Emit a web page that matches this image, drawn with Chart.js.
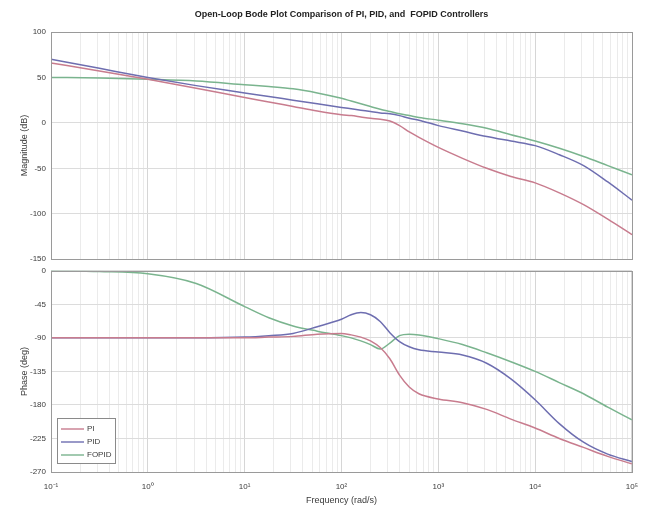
<!DOCTYPE html>
<html><head><meta charset="utf-8">
<script src="https://cdn.jsdelivr.net/npm/chart.js@4/dist/chart.umd.min.js"></script>
<style>
html,body{margin:0;padding:0;background:#fff;}
#wrap{position:relative;width:645px;height:514px;overflow:hidden;}
canvas{position:absolute;left:0;}
#c1{top:0;} #c2{top:261px;}
</style></head><body>
<div id="wrap"><canvas id="c1" width="645" height="269"></canvas><canvas id="c2" width="648" height="253"></canvas></div>
<script>
// ---- data ----
const frequencies = [0.1, 0.3162, 1, 3.162, 10, 17.78, 31.62, 56.23, 100, 125.9, 158.5, 199.5, 251.2, 316.2, 398.1, 501.2, 631.0, 1000, 1778, 3162, 5623, 10000, 17783, 31623, 56234, 100000];
const seriesNames = ['PI', 'PID', 'FOPID'];
const magPI    = [66, 57, 48, 38, 28, 23, 18, 13, 9, 8, 6.5, 5, 4, 2, -3, -10, -16, -27, -39, -50, -59, -66, -77, -90, -106, -123];
const magPID   = [70, 60, 50, 41, 33, 29, 25, 21, 17, 15.5, 14, 12.5, 11, 10, 8, 5, 3, -3, -9, -15, -20, -25, -35, -47, -65, -85];
const magFOPID = [50, 49.5, 48, 46, 42, 40, 37.5, 33, 27, 24, 21, 18, 15, 12.5, 10, 8, 6, 3, -1, -6, -13, -20, -28, -37, -47, -57];
const phPI     = [-90, -90, -90, -90, -90, -89, -88, -85, -84, -86, -89, -94, -103, -118, -140, -156, -165, -172, -177, -186, -199, -211, -225, -237, -249, -259];
const phPID    = [-90, -90, -90, -90, -89, -87, -84, -75, -65, -59, -56, -59, -68, -83, -95, -102, -106, -109, -113, -124, -145, -173, -205, -230, -246, -256];
const phFOPID  = [0, -1, -4, -17, -48, -63, -74, -81, -87, -90, -94, -99, -105, -97, -87, -85, -86, -91, -99, -110, -122, -135, -150, -165, -183, -200];
const xTickValues = [0.1, 1, 10, 100, 1000, 10000, 100000];
const xTickLabels = ['10\u207B\u00B9', '10\u2070', '10\u00B9', '10\u00B2', '10\u00B3', '10\u2074', '10\u2075'];
const magTicks = [100, 50, 0, -50, -100, -150];
const phaseTicks = [0, -45, -90, -135, -180, -225, -270];
const titleText = 'Open-Loop Bode Plot Comparison of PI, PID, and  FOPID Controllers';

// ---- styles ----
const colors = ['rgb(200,124,142)', 'rgb(110,110,176)', 'rgb(122,180,142)'];
const FONT = "'Liberation Sans', Arial, sans-serif";
const TXT = '#3a3a3a';

function pts(arr){ return frequencies.map((f,i)=>({x:f, y:arr[i]})); }
function ds(arrs){ return arrs.map((a,i)=>({label:seriesNames[i], data:pts(a), borderColor:colors[i], borderWidth:1.5, pointRadius:0, fill:false, cubicInterpolationMode:'monotone'})); }

function logTicks(scale){
  const t=[];
  xTickValues.forEach((v,i)=>{
    t.push({value:v, major:true});
    if(i<xTickValues.length-1) for(let k=2;k<10;k++) t.push({value:k*v, major:false});
  });
  scale.ticks=t;
}
function xScale(showLabels){
  return {
    type:'logarithmic', min:0.1, max:100000,
    afterBuildTicks: logTicks,
    afterFit: s => { s.height = showLabels ? 42 : 0; },
    grid:{ color: c => (c.tick && c.tick.major) ? '#d6d6d6' : '#ebebeb', drawTicks:false },
    border:{ display:false },
    ticks:{ display:showLabels, autoSkip:false, maxRotation:0, padding:10, color:TXT, font:{family:FONT, size:8},
      callback:(v)=>{ const i=xTickValues.indexOf(v); return i>=0 ? xTickLabels[i] : ''; } },
    title:{ display:showLabels, text:'Frequency (rad/s)', color:TXT, font:{family:FONT, size:9}, padding:{top:0,bottom:8} }
  };
}
function yScale(min,max,ticksArr,label){
  return {
    min, max,
    afterBuildTicks: s => { s.ticks = ticksArr.map(v=>({value:v})); },
    afterFit: s => { s.width = 51; },
    grid:{ color:'#dcdcdc', drawTicks:false },
    border:{ display:false },
    ticks:{ padding:5, color:TXT, font:{family:FONT, size:8} },
    title:{ display:true, text:label, color:TXT, font:{family:FONT, size:9}, padding:{top:19,bottom:0} }
  };
}
const boxPlugin = { id:'box', afterDraw(chart){
  const {ctx, chartArea:a} = chart;
  ctx.save(); ctx.strokeStyle='#9a9a9a'; ctx.lineWidth=1;
  ctx.strokeRect(Math.round(a.left)+0.5, Math.round(a.top)+0.5, Math.round(a.right-a.left), Math.round(a.bottom-a.top));
  ctx.restore();
}};
const titlePlugin = { id:'ttl', afterDraw(chart){
  const {ctx, chartArea:a} = chart;
  ctx.save(); ctx.fillStyle='#222'; ctx.font="bold 9px "+FONT; ctx.textAlign='center'; ctx.textBaseline='middle';
  ctx.fillText(titleText, (a.left+a.right)/2, 15); ctx.restore();
}};
const legendPlugin = { id:'leg', afterDraw(chart){
  const {ctx} = chart;
  const x0=57, y0=418-261, w=58, h=45;
  ctx.save();
  ctx.fillStyle='#fff'; ctx.fillRect(x0,y0,w,h);
  ctx.strokeStyle='#8a8a8a'; ctx.lineWidth=1; ctx.strokeRect(x0+0.5,y0+0.5,w,h);
  ctx.font="8px "+FONT; ctx.textBaseline='middle'; ctx.fillStyle=TXT;
  chart.data.datasets.forEach((d,i)=>{
    const y=y0+11+i*13;
    ctx.strokeStyle=d.borderColor; ctx.lineWidth=1.4;
    ctx.beginPath(); ctx.moveTo(x0+4,y); ctx.lineTo(x0+27,y); ctx.stroke();
    ctx.fillText(d.label, x0+30, y);
  });
  ctx.restore();
}};
const common = { responsive:false, animation:false, devicePixelRatio:1,
  plugins:{ legend:{display:false}, tooltip:{enabled:false} } };

new Chart(document.getElementById('c1'), {
  type:'line',
  data:{ datasets: ds([magPI, magPID, magFOPID]) },
  options:Object.assign({}, common, {
    layout:{ padding:{ top:32, right:13, bottom:3, left:0 } },
    scales:{ x:xScale(false), y:yScale(-150,100,magTicks,'Magnitude (dB)') }
  }),
  plugins:[boxPlugin, titlePlugin]
});
new Chart(document.getElementById('c2'), {
  type:'line',
  data:{ datasets: ds([phPI, phPID, phFOPID]) },
  options:Object.assign({}, common, {
    layout:{ padding:{ top:8, right:10, bottom:0, left:0 } },
    scales:{ x:xScale(true), y:yScale(-270,0,phaseTicks,'Phase (deg)') }
  }),
  plugins:[boxPlugin, legendPlugin]
});
</script>
</body></html>
